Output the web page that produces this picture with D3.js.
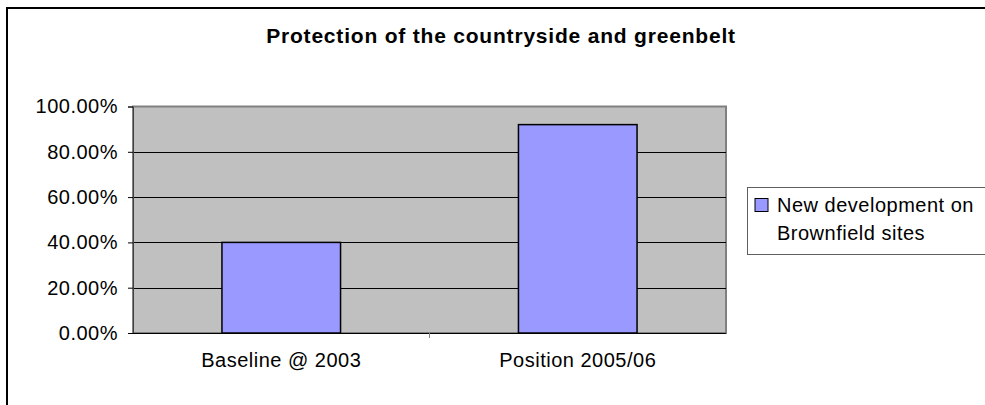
<!DOCTYPE html>
<html>
<head>
<meta charset="utf-8">
<script src="https://cdn.jsdelivr.net/npm/d3@7"></script>
<style>
  body { margin: 0; background: #fff; }
  text { font-family: Arial, "Liberation Sans", sans-serif; fill: #000; }
</style>
</head>
<body>
<script>
var w = 985;
var h = 405;

var title = "Protection of the countryside and greenbelt";
var categories = ["Baseline @ 2003", "Position 2005/06"];
var values = [0.40, 0.92];
var yTicks = [0, 0.2, 0.4, 0.6, 0.8, 1.0];
var legendLines = ["New development on", "Brownfield sites"];

var plot = {left: 133, right: 726, top: 106.5, bottom: 333};

var svg = d3.select("body")
    .append("svg")
    .attr("width", w)
    .attr("height", h);

// outer chart border (right and bottom fall outside the picture)
svg.append("path")
    .attr("d", "M7,405 V8 H985")
    .attr("fill", "none")
    .attr("stroke", "#000")
    .attr("stroke-width", 2);

svg.append("text")
    .attr("x", 501)
    .attr("y", 43)
    .attr("text-anchor", "middle")
    .style("font-size", "21px")
    .style("font-weight", "bold")
    .style("letter-spacing", "0.8px")
    .text(title);

var xScale = d3.scaleBand()
    .domain(categories)
    .range([plot.left, plot.right])
    .paddingInner(0.6)
    .paddingOuter(0.3);

var yScale = d3.scaleLinear()
    .domain([0, 1])
    .range([plot.bottom, plot.top]);

// plot background
svg.append("rect")
    .attr("x", plot.left)
    .attr("y", plot.top)
    .attr("width", plot.right - plot.left)
    .attr("height", plot.bottom - plot.top)
    .attr("fill", "#c0c0c0")
    .attr("stroke", "#808080")
    .attr("stroke-width", 2);

// grid lines
svg.selectAll("line.grid")
    .data(yTicks.slice(1, -1))
    .enter()
    .append("line")
    .attr("class", "grid")
    .attr("x1", plot.left)
    .attr("x2", plot.right)
    .attr("y1", function(d){ return Math.round(yScale(d)) + 0.5; })
    .attr("y2", function(d){ return Math.round(yScale(d)) + 0.5; })
    .attr("stroke", "#000")
    .attr("stroke-width", 1);

svg.selectAll("rect.bar")
    .data(values)
    .enter()
    .append("rect")
    .attr("class", "bar")
    .attr("x", function(d, i){ return xScale(categories[i]); })
    .attr("y", function(d){ return yScale(d); })
    .attr("width", xScale.bandwidth())
    .attr("height", function(d){ return plot.bottom - yScale(d); })
    .attr("fill", "#9999ff")
    .attr("stroke", "#000")
    .attr("stroke-width", 1.5);

// y axis
var yAxis = d3.axisLeft(yScale)
    .tickValues(yTicks)
    .tickSize(5)
    .tickPadding(10)
    .tickFormat(function(d){ return (d * 100).toFixed(2) + "%"; });

var yG = svg.append("g")
    .attr("transform", "translate(" + plot.left + ",0)")
    .call(yAxis);
yG.select(".domain").attr("stroke", "#404040");
yG.selectAll(".tick line").attr("stroke", "#000");
yG.selectAll(".tick text")
    .style("font-size", "20px")
    .style("letter-spacing", "0.5px")
    .attr("fill", "#000");

// x axis
var xAxis = d3.axisBottom(xScale)
    .tickSize(0)
    .tickPadding(20);

var xG = svg.append("g")
    .attr("transform", "translate(0," + plot.bottom + ")")
    .call(xAxis);
xG.select(".domain").attr("stroke", "#000").attr("d", "M" + plot.left + ",0.5H" + plot.right);
xG.selectAll(".tick text")
    .style("font-size", "20px")
    .style("letter-spacing", "0.5px")
    .attr("fill", "#000");

// tick between categories
var mid = (xScale(categories[0]) + xScale.bandwidth() + xScale(categories[1])) / 2;
svg.append("line")
    .attr("x1", mid)
    .attr("x2", mid)
    .attr("y1", plot.bottom)
    .attr("y2", plot.bottom + 5)
    .attr("stroke", "#808080");

// legend
var legend = svg.append("g").attr("transform", "translate(747,187)");
legend.append("rect")
    .attr("x", 0.5)
    .attr("y", 0.5)
    .attr("width", 250)
    .attr("height", 67)
    .attr("fill", "#fff")
    .attr("stroke", "#606060");
legend.append("rect")
    .attr("x", 8)
    .attr("y", 11.5)
    .attr("width", 13)
    .attr("height", 13)
    .attr("fill", "#9999ff")
    .attr("stroke", "#000")
    .attr("stroke-width", 1);
legend.selectAll("text")
    .data(legendLines)
    .enter()
    .append("text")
    .attr("x", 30)
    .attr("y", function(d, i){ return 25 + i * 28; })
    .style("font-size", "20px")
    .style("letter-spacing", "0.5px")
    .text(function(d){ return d; });
</script>
</body>
</html>
